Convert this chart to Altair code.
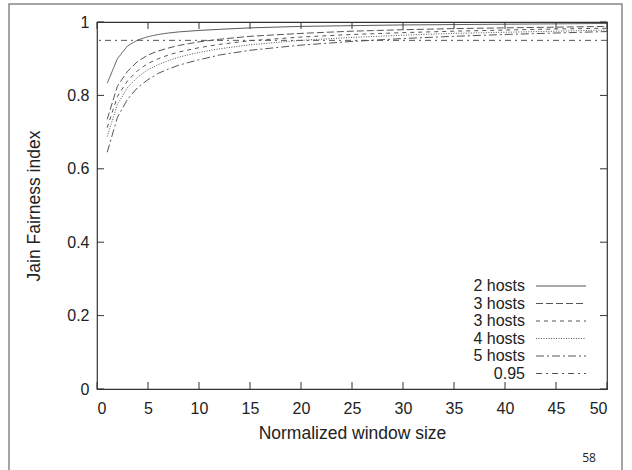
import altair as alt
import pandas as pd

# window sizes
xs = [1, 2, 3, 4, 5, 6, 7, 8, 9, 10, 12, 15, 20, 25, 30, 35, 40, 45, 50]
h2 = [0.833, 0.900, 0.935, 0.951, 0.960, 0.966, 0.970, 0.973, 0.975, 0.977, 0.980, 0.984, 0.988, 0.990, 0.992, 0.993, 0.994, 0.995, 0.996]
h3a = [0.735, 0.825, 0.866, 0.893, 0.910, 0.921, 0.929, 0.936, 0.941, 0.946, 0.953, 0.961, 0.969, 0.975, 0.979, 0.982, 0.984, 0.986, 0.988]
h3b = [0.712, 0.797, 0.840, 0.868, 0.887, 0.900, 0.910, 0.918, 0.924, 0.930, 0.939, 0.949, 0.959, 0.966, 0.971, 0.975, 0.978, 0.981, 0.983]
h4 = [0.688, 0.775, 0.822, 0.850, 0.870, 0.884, 0.895, 0.904, 0.911, 0.917, 0.927, 0.938, 0.950, 0.958, 0.964, 0.969, 0.972, 0.975, 0.978]
h5 = [0.645, 0.740, 0.790, 0.822, 0.843, 0.860, 0.872, 0.882, 0.890, 0.897, 0.910, 0.923, 0.937, 0.947, 0.955, 0.961, 0.966, 0.970, 0.974]
ref_value = 0.95

series_ids = ["s1", "s2", "s3", "s4", "s5", "ref"]
series_labels = ["2 hosts", "3 hosts", "3 hosts", "4 hosts", "5 hosts", "0.95"]
series_values = [h2, h3a, h3b, h4, h5]
dashes = [[1, 0], [7, 3], [4, 4], [1, 1.5], [8, 3, 2, 3], [6, 4, 2, 4]]

x_ticks = [0, 5, 10, 15, 20, 25, 30, 35, 40, 45, 50]
y_ticks = [0, 0.2, 0.4, 0.6, 0.8, 1]

W, H = 510, 367
FONT = "Liberation Sans"
INK = "#222222"
LINE = "#555555"

rows = []
for sid, vals in zip(series_ids[:5], series_values):
    for x, y in zip(xs, vals):
        rows.append({"x": x, "y": y, "sid": sid})
df = pd.DataFrame(rows)

leg = pd.DataFrame({"sid": series_ids, "label": series_labels, "idx": list(range(len(series_ids)))})
xt = pd.DataFrame({"t": x_ticks})
yt = pd.DataFrame({"t": y_ticks})

xscale = alt.Scale(domain=[0, 50], nice=False, zero=False)
yscale = alt.Scale(domain=[0, 1], nice=False)
dash_scale = alt.Scale(domain=series_ids, range=dashes)

xaxis = alt.Axis(values=x_ticks, ticks=False, domain=False, grid=False, labelPadding=11,
                 labelFont=FONT, labelFontSize=16, labelColor=INK,
                 title="Normalized window size", titleFont=FONT, titleFontSize=17.5,
                 titleFontWeight="normal", titleColor=INK, titleX=W / 2, titleY=44,
                 titleBaseline="middle", titleAlign="center")
yaxis = alt.Axis(values=y_ticks, ticks=False, domain=False, grid=False, labelPadding=8,
                 format="~g", labelFont=FONT, labelFontSize=16, labelColor=INK,
                 title="Jain Fairness index", titleFont=FONT, titleFontSize=17.5,
                 titleFontWeight="normal", titleColor=INK, titleX=-63, titleY=H / 2,
                 titleAngle=-90, titleBaseline="middle", titleAlign="center")

lines = alt.Chart(df).mark_line(strokeWidth=1, color=LINE).encode(
    x=alt.X("x:Q", scale=xscale, axis=xaxis),
    y=alt.Y("y:Q", scale=yscale, axis=yaxis),
    strokeDash=alt.StrokeDash("sid:N", scale=dash_scale, legend=None),
    detail="sid:N",
)

ref = alt.Chart(pd.DataFrame({"v": [ref_value]})).mark_rule(
    strokeWidth=1, color=LINE, strokeDash=dashes[5]
).encode(y=alt.Y("v:Q", scale=yscale))

# inward ticks (bottom, top, left, right)
xt_bot = alt.Chart(xt).mark_rule(color="#333", strokeWidth=1).encode(
    x=alt.X("t:Q", scale=xscale), y=alt.value(H), y2=alt.value(H - 7))
xt_top = alt.Chart(xt).mark_rule(color="#333", strokeWidth=1).encode(
    x=alt.X("t:Q", scale=xscale), y=alt.value(0), y2=alt.value(7))
yt_left = alt.Chart(yt).mark_rule(color="#333", strokeWidth=1).encode(
    y=alt.Y("t:Q", scale=yscale), x=alt.value(0), x2=alt.value(7))
yt_right = alt.Chart(yt).mark_rule(color="#333", strokeWidth=1).encode(
    y=alt.Y("t:Q", scale=yscale), x=alt.value(W), x2=alt.value(W - 7))

# legend
leg_text = alt.Chart(leg).mark_text(
    align="right", baseline="middle", font=FONT, fontSize=16, color=INK
).transform_calculate(ly="264 + datum.idx * 17.5").encode(
    x=alt.value(428), y=alt.Y("ly:Q", scale=None), text="label:N")
leg_line = alt.Chart(leg).mark_rule(strokeWidth=1, color=LINE).transform_calculate(
    ly="264 + datum.idx * 17.5").encode(
    x=alt.value(439), x2=alt.value(489), y=alt.Y("ly:Q", scale=None),
    strokeDash=alt.StrokeDash("sid:N", scale=dash_scale, legend=None))

page = alt.Chart(pd.DataFrame({"p": ["58"]})).mark_text(
    font="Open Sans", fontSize=12, color=INK, align="center", baseline="middle"
).encode(x=alt.value(492), y=alt.value(436), text="p:N")

frame = alt.Chart(pd.DataFrame({"a": [0]})).mark_rect(
    fill=None, stroke="#888888", strokeWidth=1.5
).encode(x=alt.value(-88), x2=alt.value(525), y=alt.value(-18), y2=alt.value(480))

chart = alt.layer(
    frame, ref, lines, xt_bot, xt_top, yt_left, yt_right, leg_text, leg_line, page
).properties(
    width=W, height=H,
    autosize=alt.AutoSizeParams(type="none"),
    padding={"left": 97, "top": 22, "right": 25, "bottom": 81},
    background="white",
).configure_view(stroke="#333333", strokeWidth=1.2)

chart.save("out.html", embed_options={"renderer": "svg", "actions": False})
